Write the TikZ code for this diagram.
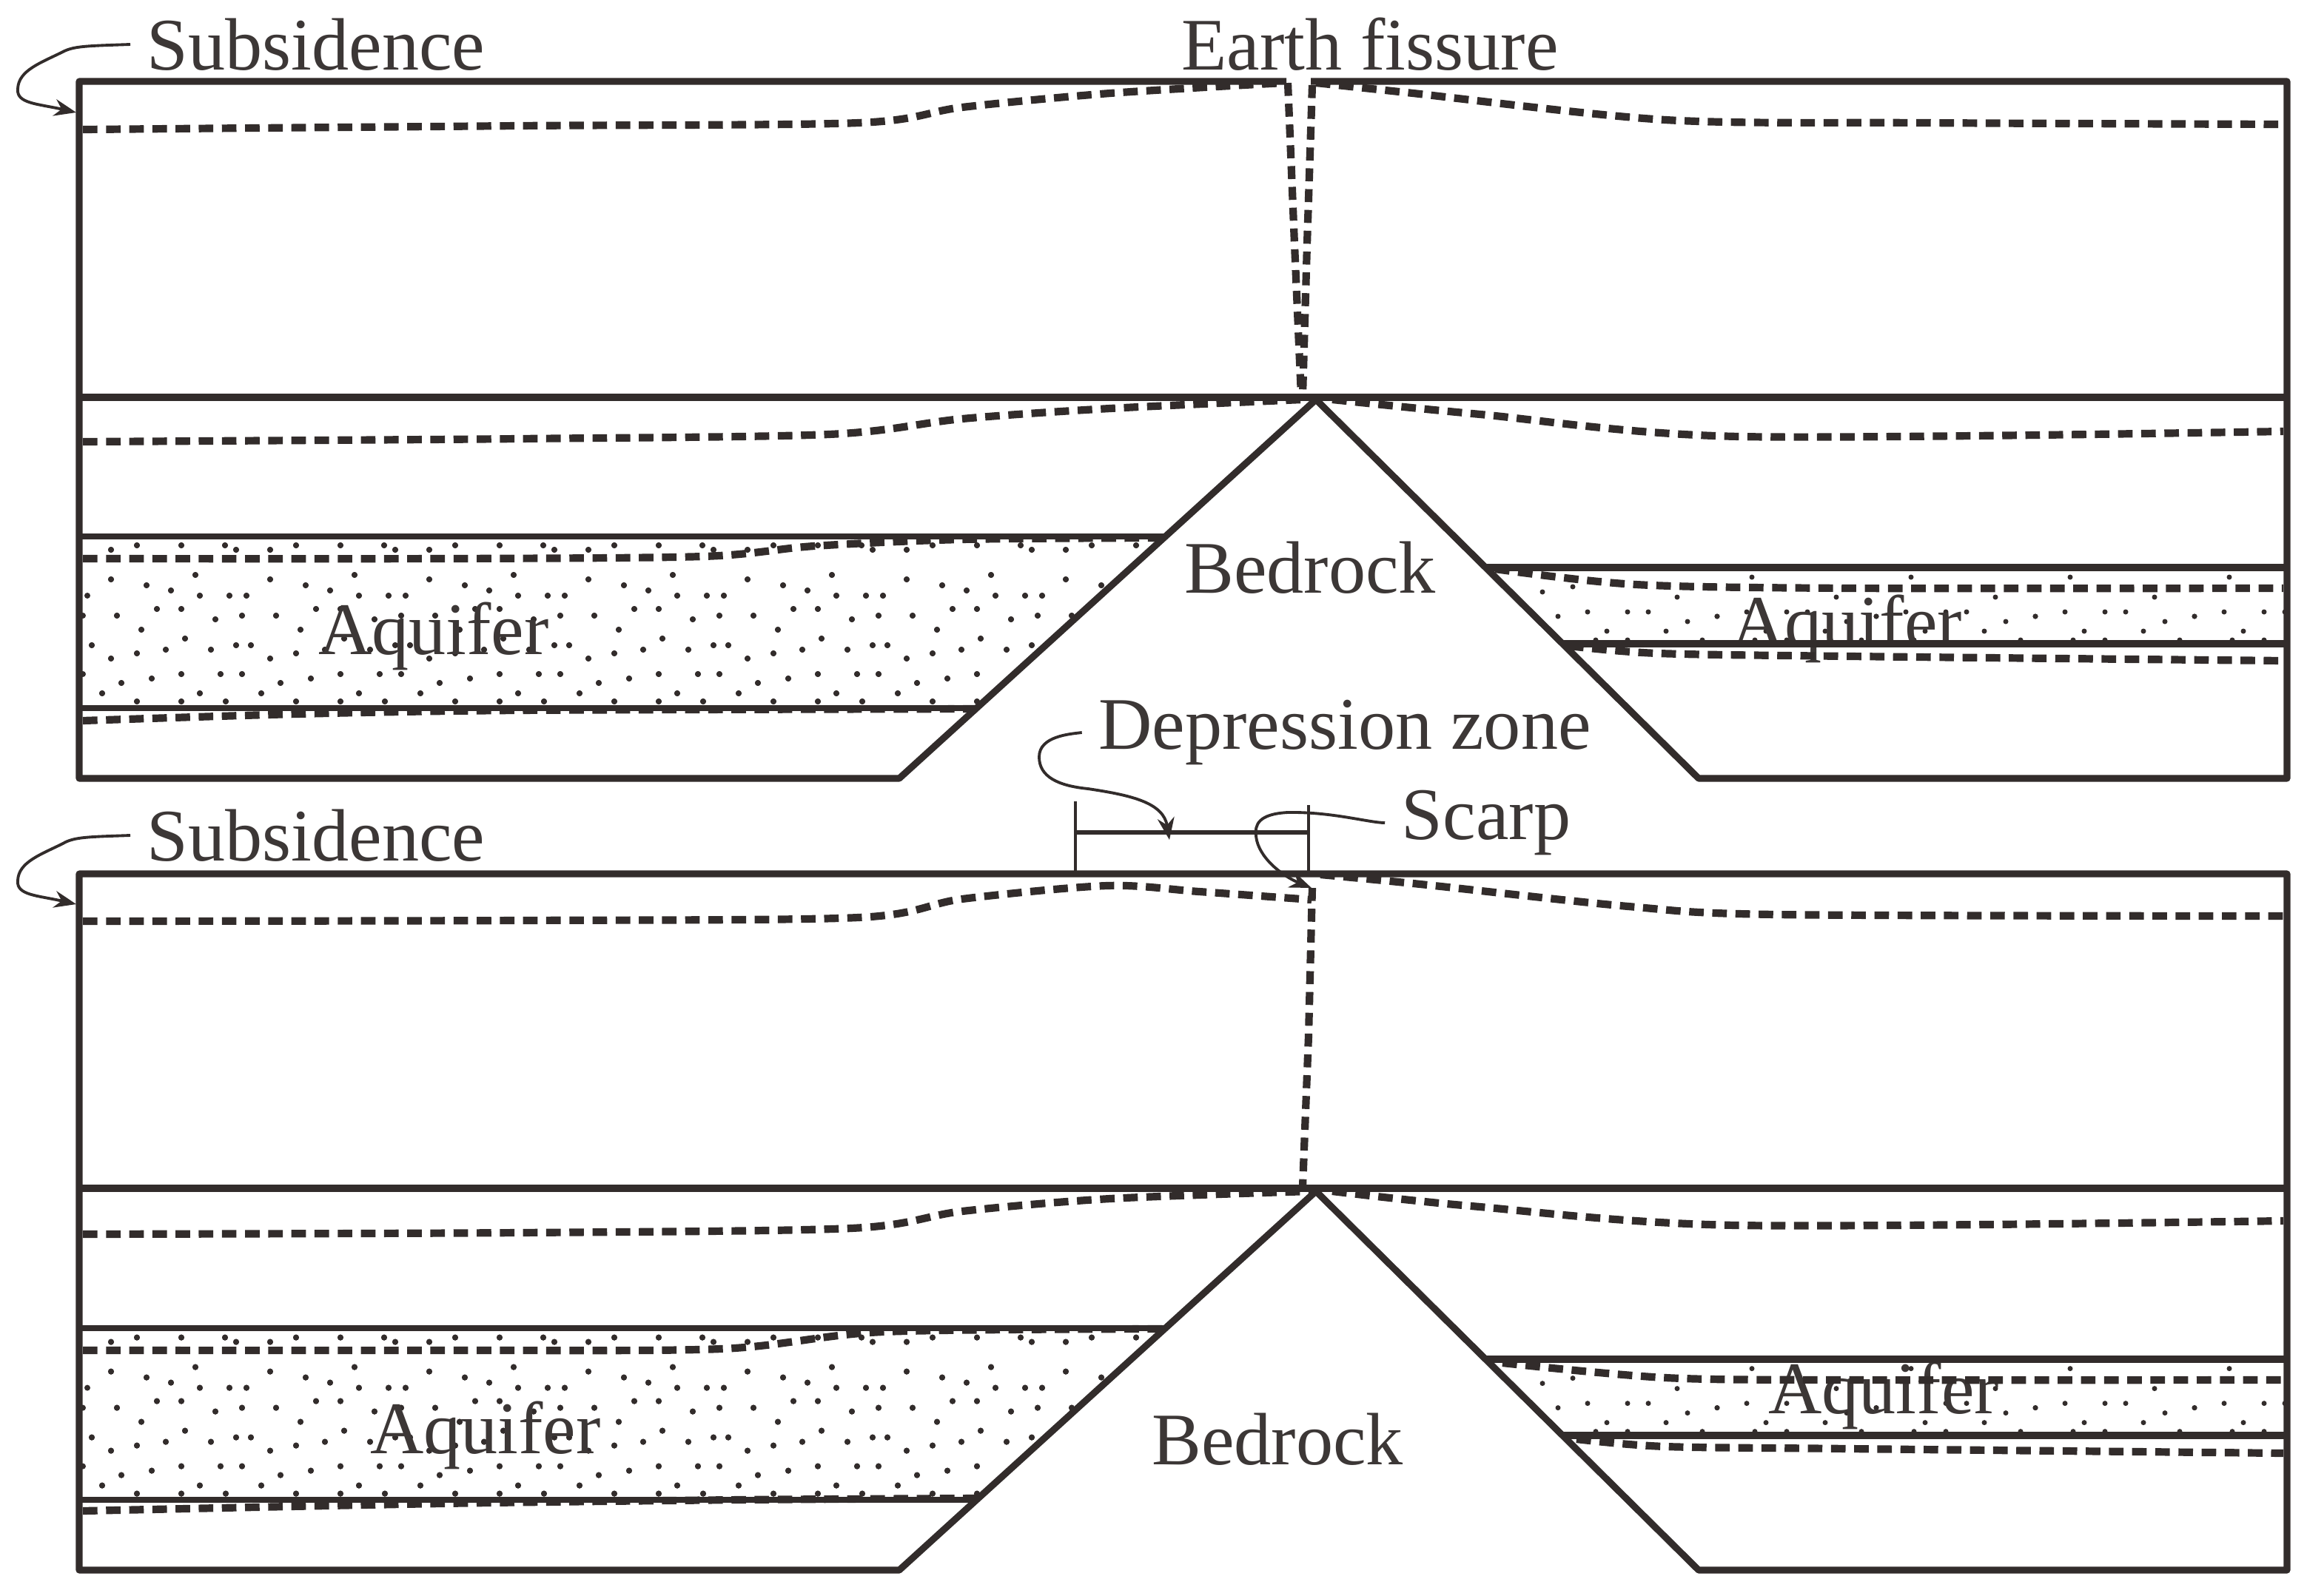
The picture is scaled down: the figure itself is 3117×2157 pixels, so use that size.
\documentclass[tikz,border=0pt]{standalone}
\usepackage{fontspec}
\setmainfont{Liberation Serif}
\usetikzlibrary{arrows.meta}
\definecolor{ink}{HTML}{322C2B}
\definecolor{txt}{HTML}{3C3736}
\tikzset{
  solidline/.style={draw=ink,line width=2.6pt,line join=round},
  thinline/.style={draw=ink,line width=2.2pt},
  dashline/.style={draw=ink,line width=2.9pt,dash pattern=on 5.6pt off 3.3pt},
  fissline/.style={draw=ink,line width=2.9pt,dash pattern=on 5pt off 3pt},
  tickline/.style={draw=ink,line width=1.1pt},
  callout/.style={draw=ink,line width=1.1pt,-{Stealth[length=8.5pt,width=6.5pt]}},
  lab/.style={text=txt,font=\fontsize{28.5pt}{30pt}\selectfont,inner sep=0.22cm},
  stip/.style={fill=ink,draw=none}
}
\newcommand{\leftdots}{%
  \foreach \k in {0,...,7}{
    \foreach \a/\b in {150/783,198/791,231/798,264/777,270/805,310/805,333/805,158/832,212/823,245/823,291/837,327/832,191/851,124/872,250/863,319/872,185/883,224/878,285/878,150/890,245/911,298/911,327/911,164/923,205/917,138/937,270/937,150/743,185/737,245/737,304/737,319/743,185/948,245/948,305/948}{
      \fill[stip] ({\a+215*\k-215},\b) circle (0.04cm);
      \fill[stip] ({\a+215*\k},\b) circle (0.04cm);
    }
  }
}
\newcommand{\rightdots}{%
  \foreach \k in {0,...,4}{
    \foreach \a/\b in {2105/833,2145/827,2199/827,2227/827,2280/840,2320/833,2171/853,2251/853,2266/807,2367/780,2156/865,2199/865,2300/865}{
      \fill[stip] ({\a+215*\k},\b) circle (0.035cm);
    }
  }
  \fill[stip] (2084,800) circle (0.035cm);
  \fill[stip] (2125,793) circle (0.035cm);
}
\begin{document}
\begin{tikzpicture}[x=0.01cm,y=-0.01cm]
\useasboundingbox (0,0) rectangle (3117,2157);
% ---------- stipple
\begin{scope}
  \clip (107,725) -- (1573,725) -- (1318,957) -- (107,957) -- cycle;
  \leftdots
\end{scope}
\begin{scope}
  \clip (2005,767) -- (3090,767) -- (3090,870) -- (2111,870) -- cycle;
  \rightdots
\end{scope}
\begin{scope}[yshift=-10.7cm]
  \clip (107,725) -- (1573,725) -- (1318,957) -- (107,957) -- cycle;
  \leftdots
\end{scope}
\begin{scope}[yshift=-10.69cm]
  \clip (2005,767) -- (3090,767) -- (3090,870) -- (2111,870) -- cycle;
  \rightdots
\end{scope}
% ---------- labels
\node[lab] (sub1) at (427,60) {Subsidence};
\node[lab] (fis)  at (1851,60) {Earth fissure};
\node[lab] (bed1) at (1770,767) {Bedrock};
\node[lab] (aq1)  at (586,860) {Aquifer};
\node[lab] (aq2)  at (2495,850) {Aquifer};
\node[lab] (dep)  at (1817,990) {Depression zone};
\node[lab] (scarp) at (2008,1112) {Scarp};
\node[lab] (sub2) at (427,1129) {Subsidence};
\node[lab] (aq3)  at (656,1940) {Aquifer};
\node[lab] (aq4)  at (2545,1886) {Aquifer};
\node[lab] (bed2) at (1726,1945) {Bedrock};
% ---------- upper block
\draw[solidline] (1738,110) -- (107,110) -- (107,1052) -- (1215,1052) -- (1778,540) -- (2295,1052) -- (3090,1052) -- (3090,110) -- (1771,110);
\draw[solidline] (107,537) -- (3090,537);
\draw[thinline] (107,725) -- (1573,725);
\draw[thinline] (107,957) -- (1320,957);
\draw[solidline] (2007,767) -- (3090,767);
\draw[solidline] (2111,870) -- (3090,870);
\draw[dashline] plot[smooth,tension=.5] coordinates {(112,175) (700,170) (1160,166) (1300,145) (1500,126) (1735,112)};
\draw[dashline] plot[smooth,tension=.5] coordinates {(1778,112) (1900,125) (2250,162) (2600,166) (3085,168)};
\draw[fissline] (1740,112) -- (1749,330) -- (1758,535);
\draw[fissline] (1773,115) -- (1766,330) -- (1760,535);
\draw[dashline] plot[smooth,tension=.5] coordinates {(112,597) (700,593) (1120,587) (1300,566) (1500,552) (1760,540)};
\draw[dashline] plot[smooth,tension=.5] coordinates {(1800,540) (2000,560) (2350,590) (3085,583)};
\draw[dashline] plot[smooth,tension=.5] coordinates {(112,755) (600,755) (950,752) (1100,738) (1300,729) (1565,727)};
\draw[dashline] plot[smooth,tension=.5] coordinates {(112,974) (400,965) (700,960) (1320,958)};
\draw[dashline] plot[smooth,tension=.5] coordinates {(2020,769) (2210,790) (2500,795) (3085,795)};
\draw[dashline] plot[smooth,tension=.5] coordinates {(2120,873) (2240,883) (2500,887) (3085,893)};
% ---------- lower block
\draw[solidline] (107,1181) -- (107,2122) -- (1215,2122) -- (1778,1610) -- (2295,2122) -- (3090,2122) -- (3090,1181) -- cycle;
\draw[solidline] (107,1606) -- (3090,1606);
\draw[thinline] (107,1795) -- (1573,1795);
\draw[thinline] (107,2027) -- (1320,2027);
\draw[solidline] (2007,1837) -- (3090,1837);
\draw[solidline] (2111,1940) -- (3090,1940);
\draw[dashline] plot[smooth,tension=.5] coordinates {(112,1245) (700,1244) (1160,1240) (1300,1215) (1496,1197) (1620,1205) (1772,1216)};
\draw[dashline] plot[smooth,tension=.5] coordinates {(1784,1182) (1919,1195) (2200,1225) (2400,1236) (3085,1238)};
\draw[fissline] (1773,1200) -- (1768,1400) -- (1760,1604);
\draw[dashline] plot[smooth,tension=.5] coordinates {(112,1668) (700,1666) (1150,1660) (1300,1637) (1500,1620) (1770,1610)};
\draw[dashline] plot[smooth,tension=.5] coordinates {(1800,1610) (1988,1630) (2346,1656) (3085,1650)};
\draw[dashline] plot[smooth,tension=.5] coordinates {(112,1825) (600,1825) (974,1823) (1193,1800) (1570,1796)};
\draw[dashline] plot[smooth,tension=.5] coordinates {(112,2042) (596,2032) (1000,2027) (1320,2025)};
\draw[dashline] plot[smooth,tension=.5] coordinates {(2030,1842) (2250,1862) (2500,1865) (3085,1865)};
\draw[dashline] plot[smooth,tension=.5] coordinates {(2130,1945) (2250,1955) (2500,1958) (3085,1964)};
% ---------- dimension ticks
\coordinate (dimL) at (1453,1125);
\coordinate (dimR) at (1768,1125);
\draw[tickline] (1453,1083) -- (1453,1181);
\draw[tickline] (1768,1088) -- (1768,1181);
\draw[tickline,line width=1.5pt] (dimL) -- (dimR);
% ---------- callouts
\coordinate (subTip1) at (103,152);
\coordinate (subTip2) at (103,1222);
\coordinate (depTip) at (1580,1135);
\coordinate (scarpTip) at (1772,1200);
\draw[callout] (sub1.west) .. controls (120,62) and (100,62) .. (85,70) .. controls (55,85) and (25,95) .. (24,120) .. controls (22,140) and (50,140) .. (subTip1);
\draw[callout] (sub2.west) .. controls (120,1131) and (100,1131) .. (85,1140) .. controls (55,1155) and (25,1165) .. (24,1190) .. controls (22,1210) and (50,1210) .. (subTip2);
\draw[callout] (dep.west) .. controls (1445,992) and (1404,995) .. (1404,1023) .. controls (1404,1050) and (1430,1062) .. (1470,1066) .. controls (1530,1075) and (1572,1085) .. (depTip);
\draw[callout] (scarp.west) .. controls (1850,1112) and (1800,1097) .. (1740,1098) .. controls (1700,1100) and (1695,1115) .. (1697,1130) .. controls (1700,1160) and (1735,1185) .. (scarpTip);
\end{tikzpicture}
\end{document}
